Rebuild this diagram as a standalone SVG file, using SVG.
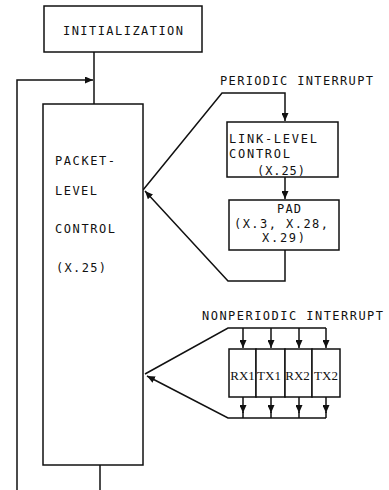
<svg xmlns="http://www.w3.org/2000/svg" width="389" height="490" viewBox="0 0 389 490">
<style>
.box{fill:#fff;stroke:#111;stroke-width:1.5}
.ln{fill:none;stroke:#111;stroke-width:1.5}
.t{font-family:"DejaVu Sans Mono","Liberation Mono",monospace;font-size:12px;fill:#111}
.s{font-family:"Liberation Serif","Times New Roman",serif;font-size:13px;fill:#111}
</style>
<defs>
<marker id="ah" markerUnits="userSpaceOnUse" markerWidth="9" markerHeight="7" refX="8" refY="3.5" orient="auto">
<path d="M0,0 L8,3.5 L0,7 z" fill="#111"/>
</marker>
</defs>
<rect width="389" height="490" fill="#fff"/>
<g id="connectors">
<path class="ln" d="M94,52 V104"/>
<path class="ln" d="M17,490 V80 H93" marker-end="url(#ah)"/>
<path class="ln" d="M100,465 V490"/>
<path class="ln" d="M143,190 L222,93 H285 V121" marker-end="url(#ah)"/>
<path class="ln" d="M285,177 V199" marker-end="url(#ah)"/>
<path class="ln" d="M285,250 V281 H228 L145,191" marker-end="url(#ah)"/>
<path class="ln" d="M145,374 L228,328 H326"/>
<path class="ln" d="M243,328 V348" marker-end="url(#ah)"/>
<path class="ln" d="M271,328 V348" marker-end="url(#ah)"/>
<path class="ln" d="M299,328 V348" marker-end="url(#ah)"/>
<path class="ln" d="M326,328 V348" marker-end="url(#ah)"/>
<path class="ln" d="M243,397 V413" marker-end="url(#ah)"/>
<path class="ln" d="M271,397 V413" marker-end="url(#ah)"/>
<path class="ln" d="M299,397 V413" marker-end="url(#ah)"/>
<path class="ln" d="M326,397 V413" marker-end="url(#ah)"/>
<path class="ln" d="M243,412 V418 M271,412 V418 M299,412 V418 M326,412 V418"/>
<path class="ln" d="M326,418 H228 L147,376" marker-end="url(#ah)"/>
</g>
<g id="initialization">
<rect class="box" x="44" y="6" width="158" height="46"/>
<text class="t" x="63" y="35" font-size="13" textLength="120" lengthAdjust="spacing">INITIALIZATION</text>
</g>
<g id="packet-level-control">
<rect class="box" x="43" y="104" width="100" height="361"/>
<text class="t" x="55" y="165" textLength="60" lengthAdjust="spacing">PACKET-</text>
<text class="t" x="55" y="195" textLength="42" lengthAdjust="spacing">LEVEL</text>
<text class="t" x="55" y="233" textLength="60" lengthAdjust="spacing">CONTROL</text>
<text class="t" x="56" y="272" textLength="50" lengthAdjust="spacing">(X.25)</text>
</g>
<g id="periodic-interrupt">
<text class="t" x="220" y="85" textLength="153" lengthAdjust="spacing">PERIODIC INTERRUPT</text>
</g>
<g id="link-level-control">
<rect class="box" x="227" y="122" width="111" height="55"/>
<text class="t" x="229" y="143" textLength="88" lengthAdjust="spacing">LINK-LEVEL</text>
<text class="t" x="229" y="158" textLength="61" lengthAdjust="spacing">CONTROL</text>
<text class="t" x="257" y="175" textLength="48" lengthAdjust="spacing">(X.25)</text>
</g>
<g id="pad">
<rect class="box" x="229" y="200" width="110" height="50"/>
<text class="t" x="277" y="213" textLength="24" lengthAdjust="spacing">PAD</text>
<text class="t" x="234" y="228" textLength="94" lengthAdjust="spacing">(X.3, X.28,</text>
<text class="t" x="262" y="242" textLength="43" lengthAdjust="spacing">X.29)</text>
</g>
<g id="nonperiodic-interrupt">
<text class="t" x="202" y="320" textLength="181" lengthAdjust="spacing">NONPERIODIC INTERRUPT</text>
</g>
<g id="rx1">
<rect class="box" x="229" y="349" width="27" height="48"/>
<text class="s" x="242.5" y="380" text-anchor="middle">RX1</text>
</g>
<g id="tx1">
<rect class="box" x="256" y="349" width="29" height="48"/>
<text class="s" x="269" y="380" text-anchor="middle">TX1</text>
</g>
<g id="rx2">
<rect class="box" x="285" y="349" width="27" height="48"/>
<text class="s" x="297.5" y="380" text-anchor="middle">RX2</text>
</g>
<g id="tx2">
<rect class="box" x="312" y="349" width="28" height="48"/>
<text class="s" x="326" y="380" text-anchor="middle">TX2</text>
</g>
</svg>
